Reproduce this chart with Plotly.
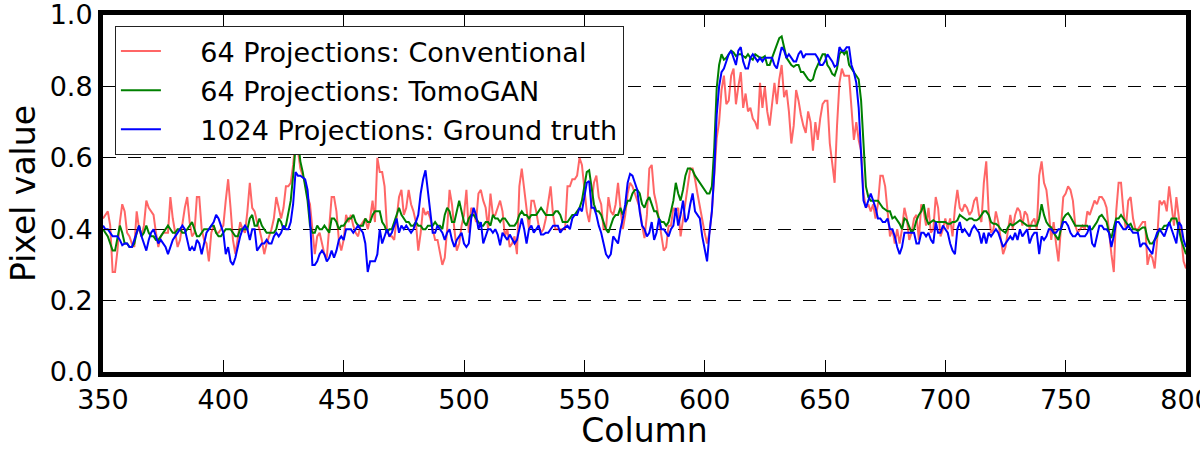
import plotly.graph_objects as go

columns = list(range(350, 801))

conventional = [
    0.43,
    0.44, 0.45, 0.41, 0.28, 0.28, 0.34, 0.42, 0.47, 0.45, 0.39,
    0.38, 0.36, 0.35, 0.45, 0.40, 0.38, 0.41, 0.48, 0.46, 0.45,
    0.44, 0.39, 0.35, 0.38, 0.39, 0.39, 0.39, 0.49, 0.43, 0.39,
    0.35, 0.37, 0.42, 0.46, 0.49, 0.42, 0.38, 0.39, 0.49, 0.49,
    0.40, 0.37, 0.36, 0.31, 0.39, 0.41, 0.39, 0.39, 0.40, 0.41,
    0.48, 0.54, 0.46, 0.37, 0.33, 0.37, 0.42, 0.40, 0.39, 0.45,
    0.53, 0.46, 0.45, 0.42, 0.40, 0.37, 0.33, 0.36, 0.38, 0.40,
    0.43, 0.49, 0.46, 0.43, 0.46, 0.52, 0.52, 0.53, 0.58, 0.65,
    0.62, 0.57, 0.55, 0.53, 0.49, 0.47, 0.40, 0.33, 0.38, 0.39,
    0.36, 0.33, 0.32, 0.40, 0.49, 0.49, 0.45, 0.37, 0.34, 0.37,
    0.44, 0.42, 0.44, 0.41, 0.39, 0.38, 0.41, 0.42, 0.43, 0.40,
    0.43, 0.48, 0.42, 0.60, 0.56, 0.56, 0.52, 0.40, 0.38, 0.38,
    0.37, 0.43, 0.49, 0.51, 0.44, 0.46, 0.51, 0.47, 0.45, 0.42,
    0.34, 0.39, 0.46, 0.44, 0.45, 0.43, 0.40, 0.37, 0.37, 0.33,
    0.30, 0.32, 0.40, 0.51, 0.47, 0.40, 0.34, 0.36, 0.41, 0.44,
    0.51, 0.39, 0.46, 0.45, 0.42, 0.50, 0.51, 0.48, 0.46, 0.40,
    0.50, 0.44, 0.44, 0.46, 0.48, 0.45, 0.38, 0.40, 0.35, 0.36,
    0.38, 0.33, 0.52, 0.57, 0.51, 0.45, 0.40, 0.48, 0.48, 0.45,
    0.41, 0.39, 0.40, 0.43, 0.48, 0.52, 0.44, 0.40, 0.40, 0.40,
    0.40, 0.40, 0.52, 0.52, 0.54, 0.54, 0.55, 0.60, 0.58, 0.52,
    0.45, 0.42, 0.48, 0.53, 0.55, 0.49, 0.47, 0.40, 0.40, 0.49,
    0.45, 0.44, 0.47, 0.53, 0.46, 0.40, 0.44, 0.50, 0.53, 0.52,
    0.50, 0.48, 0.46, 0.41, 0.375, 0.44, 0.57, 0.58, 0.50, 0.47,
    0.43, 0.38, 0.34, 0.35, 0.41, 0.41, 0.46, 0.45, 0.46, 0.38,
    0.43, 0.48, 0.52, 0.57, 0.57, 0.54, 0.50, 0.46, 0.42, 0.39,
    0.36, 0.39, 0.45, 0.56, 0.655, 0.70, 0.79, 0.83, 0.75, 0.76,
    0.83, 0.85, 0.75, 0.80, 0.84, 0.74, 0.78, 0.73, 0.74, 0.71,
    0.70, 0.68, 0.81, 0.74, 0.80, 0.73, 0.69, 0.75, 0.81, 0.75,
    0.82, 0.86, 0.77, 0.79, 0.73, 0.64, 0.69, 0.79, 0.76, 0.72,
    0.69, 0.67, 0.73, 0.70, 0.62, 0.70, 0.65, 0.71, 0.75, 0.76,
    0.76, 0.64, 0.58, 0.53, 0.69, 0.81, 0.85, 0.83, 0.83, 0.83,
    0.74, 0.65, 0.70, 0.65, 0.62, 0.50, 0.46, 0.47, 0.45, 0.47,
    0.43, 0.47, 0.55, 0.55, 0.52, 0.45, 0.38, 0.40, 0.36, 0.40,
    0.36, 0.40, 0.46, 0.43, 0.37, 0.39, 0.43, 0.44, 0.37, 0.47,
    0.45, 0.41, 0.46, 0.39, 0.40, 0.49, 0.46, 0.38, 0.40, 0.43,
    0.40, 0.43, 0.38, 0.46, 0.51, 0.46, 0.45, 0.47, 0.46, 0.44,
    0.45, 0.48, 0.49, 0.44, 0.42, 0.53, 0.59, 0.45, 0.39, 0.40,
    0.45, 0.42, 0.38, 0.33, 0.35, 0.40, 0.44, 0.40, 0.44, 0.46,
    0.45, 0.41, 0.45, 0.44, 0.40, 0.42, 0.43, 0.40, 0.55, 0.59,
    0.53, 0.51, 0.45, 0.37, 0.42, 0.36, 0.31, 0.40, 0.49, 0.50,
    0.52, 0.51, 0.48, 0.41, 0.39, 0.40, 0.41, 0.40, 0.45, 0.44,
    0.46, 0.48, 0.47, 0.49, 0.49, 0.48, 0.46, 0.39, 0.33, 0.28,
    0.45, 0.53, 0.53, 0.45, 0.40, 0.48, 0.49, 0.43, 0.40, 0.40,
    0.41, 0.42, 0.42, 0.30, 0.33, 0.32, 0.29, 0.37, 0.48, 0.47,
    0.48, 0.45, 0.52, 0.46, 0.41, 0.49, 0.44, 0.38, 0.31, 0.29,
]

tomogan = [
    0.40, 0.39, 0.38, 0.36, 0.34, 0.34, 0.38, 0.41, 0.39, 0.36,
    0.36, 0.35, 0.35, 0.36, 0.39, 0.41, 0.38, 0.39, 0.41, 0.39,
    0.38, 0.38, 0.37, 0.37, 0.38, 0.39, 0.40, 0.41, 0.40, 0.39,
    0.39, 0.40, 0.40, 0.39, 0.39, 0.40, 0.41, 0.42, 0.40, 0.38,
    0.38, 0.39, 0.40, 0.40, 0.40, 0.41, 0.41, 0.39, 0.38, 0.38,
    0.39, 0.40, 0.40, 0.40, 0.39, 0.38, 0.38, 0.40, 0.40, 0.40,
    0.40, 0.43, 0.44, 0.41, 0.41, 0.43, 0.41, 0.40, 0.39, 0.39,
    0.39, 0.39, 0.40, 0.43, 0.42, 0.40, 0.41, 0.45, 0.48, 0.55,
    0.63, 0.65, 0.59, 0.56, 0.52, 0.48, 0.41, 0.39, 0.39, 0.41,
    0.40, 0.40, 0.41, 0.40, 0.39, 0.43, 0.43, 0.42, 0.40, 0.41,
    0.41, 0.42, 0.43, 0.43, 0.44, 0.42, 0.41, 0.41, 0.41, 0.43,
    0.42, 0.42, 0.44, 0.45, 0.45, 0.45, 0.42, 0.41, 0.39, 0.40,
    0.40, 0.42, 0.44, 0.46, 0.44, 0.43, 0.42, 0.42, 0.41, 0.41,
    0.42, 0.41, 0.41, 0.40, 0.40, 0.41, 0.41, 0.41, 0.42, 0.41,
    0.41, 0.40, 0.44, 0.46, 0.45, 0.42, 0.42, 0.45, 0.48, 0.45,
    0.42, 0.41, 0.43, 0.44, 0.44, 0.43, 0.42, 0.41, 0.41, 0.42,
    0.42, 0.41, 0.44, 0.43, 0.43, 0.42, 0.43, 0.43, 0.42, 0.41,
    0.41, 0.41, 0.42, 0.44, 0.45, 0.44, 0.44, 0.43, 0.44, 0.44,
    0.44, 0.45, 0.46, 0.45, 0.44, 0.44, 0.44, 0.44, 0.45, 0.45,
    0.44, 0.42, 0.42, 0.42, 0.43, 0.44, 0.44, 0.45, 0.46, 0.48,
    0.52, 0.56, 0.565, 0.52, 0.47, 0.45, 0.45, 0.44, 0.42, 0.40,
    0.39, 0.41, 0.43, 0.44, 0.44, 0.46, 0.44, 0.46, 0.48, 0.48,
    0.50, 0.51, 0.51, 0.50, 0.47, 0.46, 0.48, 0.49, 0.47, 0.45,
    0.45, 0.43, 0.42, 0.42, 0.41, 0.42, 0.45, 0.48, 0.53, 0.50,
    0.48, 0.51, 0.55, 0.57, 0.57, 0.565, 0.55, 0.54, 0.53, 0.52,
    0.51, 0.50, 0.50, 0.52, 0.63, 0.795, 0.86, 0.89, 0.875, 0.88,
    0.89, 0.90, 0.895, 0.885, 0.89, 0.89, 0.885, 0.88, 0.89, 0.88,
    0.875, 0.89, 0.885, 0.88, 0.88, 0.885, 0.86, 0.86, 0.88, 0.90,
    0.92, 0.935, 0.94, 0.91, 0.88, 0.87, 0.86, 0.855, 0.86, 0.86,
    0.84, 0.84, 0.83, 0.82, 0.815, 0.82, 0.845, 0.86, 0.87, 0.89,
    0.89, 0.86, 0.85, 0.835, 0.83, 0.85, 0.89, 0.90, 0.89, 0.90,
    0.86, 0.85, 0.84, 0.83, 0.82, 0.76, 0.62, 0.52, 0.49, 0.48,
    0.48, 0.48, 0.48, 0.47, 0.46, 0.455, 0.45, 0.45, 0.43, 0.435,
    0.425, 0.415, 0.40, 0.43, 0.425, 0.405, 0.39, 0.40, 0.425, 0.44,
    0.45, 0.47, 0.43, 0.415, 0.42, 0.425, 0.42, 0.42, 0.42, 0.42,
    0.42, 0.415, 0.415, 0.42, 0.42, 0.425, 0.44, 0.435, 0.43, 0.425,
    0.43, 0.43, 0.425, 0.425, 0.43, 0.44, 0.45, 0.45, 0.44, 0.42,
    0.415, 0.415, 0.41, 0.40, 0.395, 0.39, 0.405, 0.415, 0.41, 0.415,
    0.42, 0.425, 0.42, 0.415, 0.41, 0.41, 0.41, 0.41, 0.41, 0.43,
    0.47, 0.44, 0.42, 0.41, 0.405, 0.39, 0.38, 0.37, 0.40, 0.43,
    0.44, 0.445, 0.435, 0.42, 0.41, 0.41, 0.41, 0.41, 0.41, 0.41,
    0.40, 0.40, 0.41, 0.42, 0.435, 0.44, 0.43, 0.42, 0.39, 0.375,
    0.405, 0.43, 0.43, 0.44, 0.43, 0.42, 0.41, 0.415, 0.40, 0.40,
    0.395, 0.40, 0.405, 0.405, 0.375, 0.36, 0.36, 0.37, 0.38, 0.40,
    0.40, 0.41, 0.41, 0.415, 0.43, 0.43, 0.43, 0.40, 0.37, 0.35,
    0.33,
]

ground_truth = [
    0.41, 0.40, 0.40, 0.39, 0.38, 0.38, 0.38, 0.37, 0.355, 0.36,
    0.36, 0.35, 0.35, 0.37, 0.39, 0.41, 0.38, 0.36, 0.34, 0.37,
    0.39, 0.40, 0.38, 0.36, 0.37, 0.36, 0.35, 0.33, 0.35, 0.37,
    0.38, 0.39, 0.40, 0.41, 0.40, 0.37, 0.34, 0.35, 0.34, 0.37,
    0.36, 0.33, 0.36, 0.39, 0.40, 0.41, 0.42, 0.44, 0.43, 0.41,
    0.39, 0.33, 0.35, 0.31, 0.30, 0.32, 0.35, 0.38, 0.40, 0.41,
    0.40, 0.37, 0.40, 0.40, 0.34, 0.35, 0.36, 0.36, 0.37, 0.36,
    0.36, 0.38, 0.39, 0.38, 0.39, 0.41, 0.40, 0.40, 0.42, 0.47,
    0.56, 0.55, 0.55, 0.545, 0.54, 0.51, 0.43, 0.30, 0.30, 0.31,
    0.33, 0.34, 0.33, 0.31, 0.32, 0.34, 0.32, 0.34, 0.37, 0.38,
    0.37, 0.40, 0.40, 0.40, 0.39, 0.40, 0.41, 0.40, 0.39, 0.36,
    0.28, 0.31, 0.31, 0.31, 0.33, 0.40, 0.36, 0.38, 0.40, 0.38,
    0.39, 0.41, 0.43, 0.39, 0.41, 0.40, 0.41, 0.40, 0.39, 0.40,
    0.42, 0.44, 0.50, 0.54, 0.565, 0.50, 0.44, 0.39, 0.39, 0.41,
    0.40, 0.39, 0.37, 0.39, 0.40, 0.37, 0.35, 0.37, 0.38, 0.39,
    0.36, 0.35, 0.36, 0.43, 0.46, 0.44, 0.40, 0.42, 0.36, 0.38,
    0.40, 0.40, 0.39, 0.40, 0.385, 0.355, 0.39, 0.38, 0.37, 0.385,
    0.37, 0.36, 0.37, 0.40, 0.43, 0.40, 0.36, 0.40, 0.41, 0.39,
    0.40, 0.41, 0.385, 0.385, 0.39, 0.39, 0.40, 0.41, 0.41, 0.41,
    0.39, 0.40, 0.405, 0.41, 0.40, 0.43, 0.44, 0.44, 0.46, 0.45,
    0.49, 0.53, 0.535, 0.46, 0.46, 0.44, 0.41, 0.39, 0.36, 0.33,
    0.32, 0.33, 0.38, 0.37, 0.36, 0.40, 0.43, 0.47, 0.53, 0.555,
    0.55, 0.53, 0.51, 0.45, 0.41, 0.40, 0.38, 0.39, 0.42, 0.37,
    0.39, 0.43, 0.40, 0.40, 0.39, 0.38, 0.40, 0.41, 0.46, 0.41,
    0.44, 0.48, 0.42, 0.43, 0.47, 0.50, 0.45, 0.44, 0.43, 0.38,
    0.34, 0.31, 0.39, 0.45, 0.56, 0.72, 0.80, 0.84, 0.85, 0.87,
    0.89, 0.90, 0.88, 0.86, 0.90, 0.91, 0.87, 0.85, 0.85, 0.88,
    0.89, 0.88, 0.87, 0.88, 0.87, 0.88, 0.88, 0.88, 0.88, 0.86,
    0.85, 0.88, 0.91, 0.90, 0.88, 0.89, 0.88, 0.87, 0.87, 0.89,
    0.90, 0.88, 0.89, 0.89, 0.89, 0.89, 0.89, 0.88, 0.86, 0.86,
    0.87, 0.89, 0.88, 0.87, 0.855, 0.86, 0.91, 0.90, 0.90, 0.91,
    0.91, 0.86, 0.84, 0.81, 0.74, 0.62, 0.48, 0.46, 0.48, 0.50,
    0.48, 0.46, 0.43, 0.43, 0.42, 0.42, 0.43, 0.40, 0.40, 0.38,
    0.35, 0.33, 0.35, 0.39, 0.39, 0.39, 0.39, 0.39, 0.36, 0.36,
    0.39, 0.39, 0.38, 0.39, 0.37, 0.36, 0.42, 0.39, 0.39, 0.41,
    0.40, 0.39, 0.36, 0.34, 0.33, 0.40, 0.42, 0.39, 0.40, 0.39,
    0.38, 0.40, 0.41, 0.40, 0.39, 0.36, 0.39, 0.36, 0.39, 0.38,
    0.39, 0.40, 0.39, 0.37, 0.35, 0.36, 0.37, 0.38, 0.37, 0.39,
    0.37, 0.40, 0.38, 0.39, 0.40, 0.36, 0.38, 0.39, 0.39, 0.33,
    0.38, 0.37, 0.38, 0.40, 0.40, 0.39, 0.39, 0.40, 0.40, 0.42,
    0.42, 0.41, 0.39, 0.38, 0.38, 0.39, 0.38, 0.38, 0.38, 0.39,
    0.41, 0.36, 0.35, 0.38, 0.41, 0.41, 0.40, 0.40, 0.39, 0.35,
    0.38, 0.42, 0.42, 0.41, 0.40, 0.40, 0.41, 0.40, 0.39, 0.39,
    0.39, 0.35, 0.36, 0.36, 0.35, 0.34, 0.33, 0.37, 0.39, 0.40,
    0.39, 0.38, 0.40, 0.42, 0.40, 0.38, 0.36, 0.42, 0.41, 0.37,
    0.35,
]

series_names = [
    "64 Projections: Conventional",
    "64 Projections: TomoGAN",
    "1024 Projections: Ground truth",
]
x_ticks = [350, 400, 450, 500, 550, 600, 650, 700, 750, 800]
y_ticks = [0.0, 0.2, 0.4, 0.6, 0.8, 1.0]

assert len(conventional) == len(columns)
assert len(tomogan) == len(columns)
assert len(ground_truth) == len(columns)

colors = ["rgba(255,0,0,0.6)", "#008000", "#0000ff"]
pad = "\u00a0" * 4

fig = go.Figure()
for name, ys, col in zip(series_names, [conventional, tomogan, ground_truth], colors):
    fig.add_trace(go.Scatter(
        x=columns, y=ys, mode="lines", name=pad + name, legendgroup=name,
        line=dict(color=col, width=2),
    ))

axis_common = dict(
    showline=True, linewidth=5, linecolor="black", mirror="ticks",
    ticks="inside", ticklen=12, tickwidth=1, tickcolor="black",
    zeroline=False, tickfont=dict(size=27, color="black"),
    ticklabeloverflow="allow", automargin=False,
)

fig.update_layout(
    width=1200, height=450,
    margin=dict(l=103, r=14, t=15, b=78),
    paper_bgcolor="white", plot_bgcolor="white",
    font=dict(family="DejaVu Sans", size=27, color="black"),
    xaxis=dict(
        range=[350, 800], tickvals=x_ticks, showgrid=False,
        title=dict(text="Column", font=dict(size=33), standoff=6),
        **axis_common,
    ),
    yaxis=dict(
        range=[0, 1], tickvals=y_ticks, tickformat=".1f",
        showgrid=True, gridcolor="black", gridwidth=1, griddash="13px,12px",
        title=dict(text="Pixel value", font=dict(size=33), standoff=6),
        **axis_common,
    ),
    legend=dict(
        x=0.011, y=0.969, xanchor="left", yanchor="top",
        bgcolor="white", bordercolor="#222222", borderwidth=1,
        font=dict(size=27, color="black"), itemwidth=40, tracegroupgap=1,
    ),
)

fig.write_html("out.html")
